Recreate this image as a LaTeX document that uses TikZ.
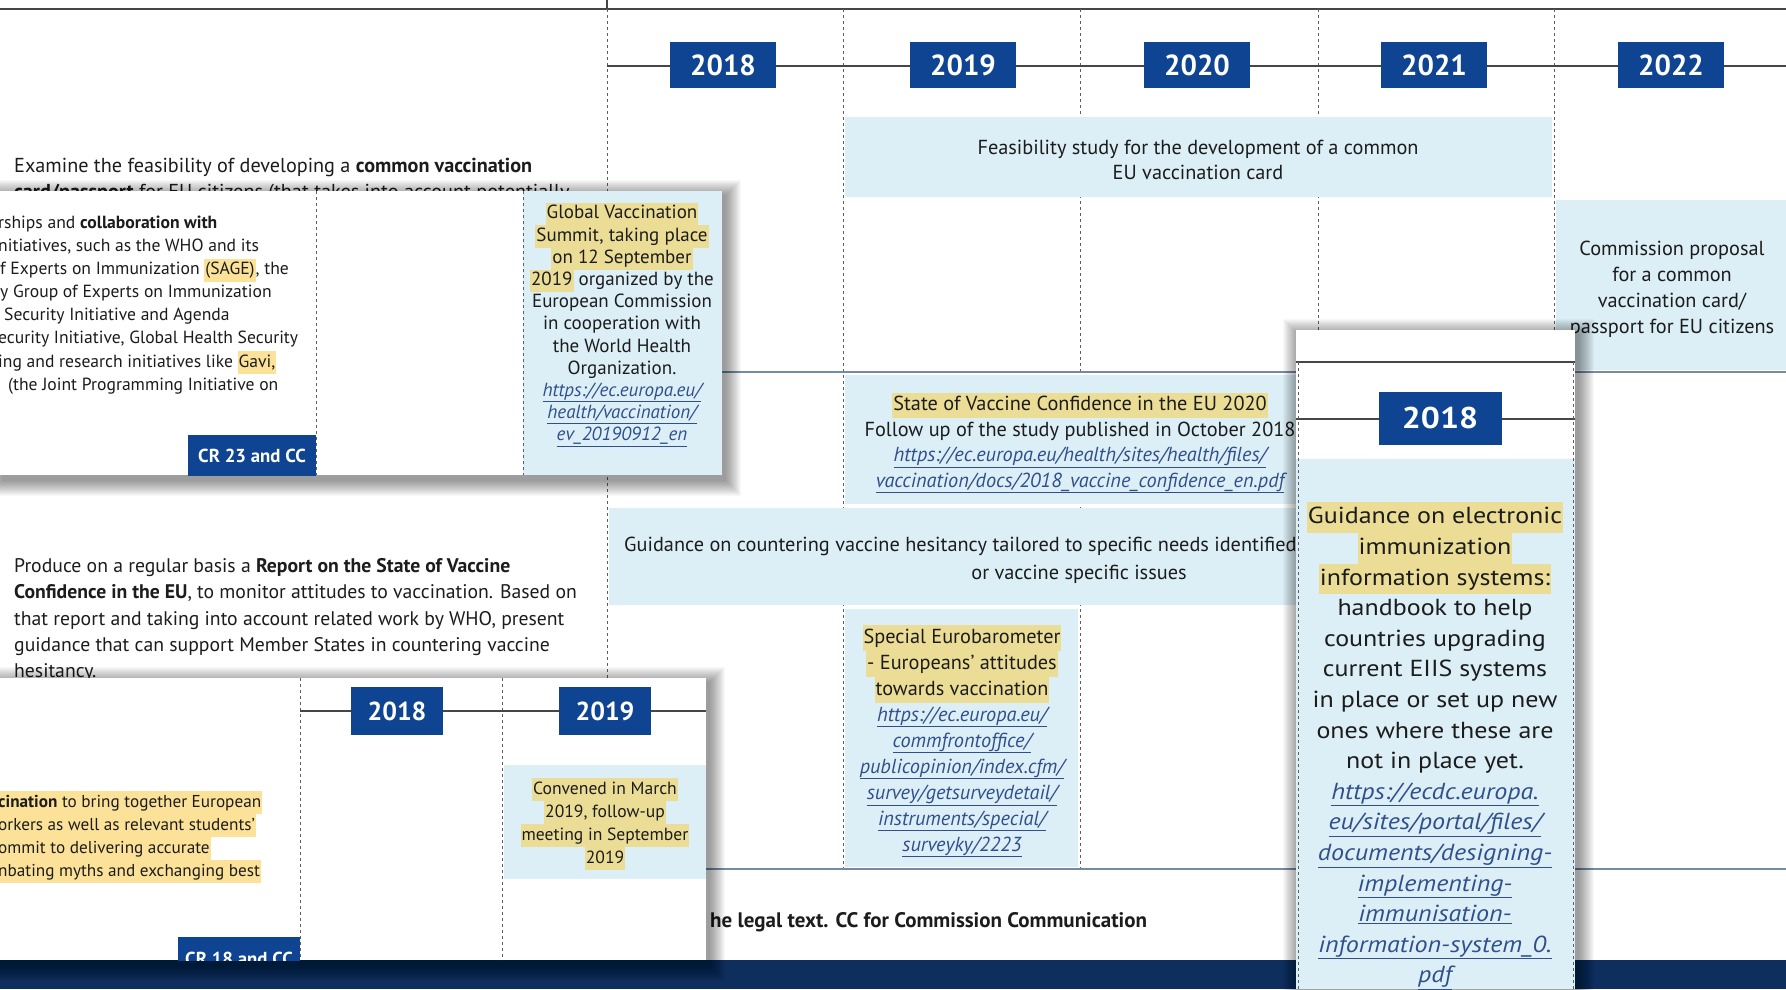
\documentclass[tikz,border=0pt]{standalone}
\usepackage{fontspec}
\setmainfont{PT Sans}
\newfontfamily\widefont{PT Sans}[FakeStretch=1.12]
\definecolor{ecblue}{RGB}{14,68,146}
\definecolor{lb}{RGB}{220,238,246}
\definecolor{hlb}{RGB}{236,221,150}
\definecolor{hlw}{RGB}{252,226,152}
\definecolor{linkc}{RGB}{48,80,140}
\definecolor{txt}{RGB}{28,28,28}
\definecolor{navy}{RGB}{14,46,94}
\definecolor{gridc}{RGB}{70,70,70}
\definecolor{divc}{RGB}{118,138,168}
\definecolor{dashc}{RGB}{95,95,95}
\newcommand{\hlB}[1]{{\setlength{\fboxsep}{0pt}\colorbox{hlb}{\strut\kern1pt#1\kern1pt}}}
\newcommand{\hlW}[1]{{\setlength{\fboxsep}{0pt}\colorbox{hlw}{\strut\kern1pt#1\kern1pt}}}
\newcommand{\lnk}[1]{{\color{linkc}\itshape\underline{#1}}}
\newcommand{\mkshadow}[4]{\foreach \k in {1,...,16}{\fill[black,opacity=0.028] ({#1-\k+3},{#2-\k+5}) rectangle ({#3+\k+3},{#4+\k+5});}}
\tikzset{
  gridline/.style={draw=gridc, line width=1.3pt},
  divline/.style={draw=divc, line width=1.3pt},
  dashline/.style={draw=dashc, line width=0.9pt, dash pattern=on 3pt off 3pt},
  yearbox/.style={fill=ecblue, text=white, font=\bfseries\fontsize{29}{29}\selectfont, minimum width=106pt, minimum height=46pt, inner sep=0pt},
  yearsmall/.style={fill=ecblue, text=white, font=\bfseries\fontsize{26}{26}\selectfont, minimum width=92pt, minimum height=48pt, inner sep=0pt},
  yearwide/.style={fill=ecblue, text=white, font=\widefont\bfseries\fontsize{30}{30}\selectfont, minimum width=123pt, minimum height=53pt, inner sep=0pt},
  body/.style={font=\fontsize{20.3}{26}\selectfont, text=txt, inner sep=0pt},
  boxtext/.style={font=\fontsize{20.3}{25.5}\selectfont, text=txt, inner sep=0pt, align=center},
  smalltext/.style={font=\fontsize{17.6}{23.1}\selectfont, text=txt, inner sep=0pt, align=left, anchor=west},
  cardtext/.style={font=\fontsize{19}{22.2}\selectfont, text=txt, inner sep=0pt, align=center},
  widetext/.style={font=\widefont\fontsize{23.2}{30.6}\selectfont, text=txt, inner sep=0pt, align=center},
  crtext/.style={font=\bfseries\fontsize{18.8}{20}\selectfont, text=white, inner sep=0pt}
}
\begin{document}
\begin{tikzpicture}[x=1pt,y=-1pt]
\useasboundingbox (0,0) rectangle (1786,989);
\fill[white] (0,0) rectangle (1786,989);

% ---------- main page ----------
\draw[gridline] (0,9) -- (1786,9);
\draw[gridline] (607,0) -- (607,9);
\foreach \xx in {607,843,1080,1318,1554} \draw[dashline] (\xx,9) -- (\xx,869);
\draw[gridline] (607,66) -- (1786,66);
\node[yearbox] (y18) at (723,65) {2018};
\node[yearbox] (y19) at (963,65) {2019};
\node[yearbox] (y20) at (1197,65) {2020};
\node[yearbox] (y21) at (1434,65) {2021};
\node[yearbox] (y22) at (1671,65) {2022};

\fill[lb] (845,117) rectangle (1552,197);
\fill[lb] (1556,200) rectangle (1786,370);
\fill[lb] (845,375) rectangle (1316,504);
\fill[lb] (609,508) rectangle (1552,605);
\fill[lb] (845,609) rectangle (1078,867);
\draw[divline] (607,372) -- (1786,372);
\draw[divline] (607,869) -- (1786,869);

\node[body, font=\fontsize{20.2}{26}\selectfont, anchor=west, align=left] (examine) at (14,181)
  {Examine the feasibility of developing a \textbf{common vaccination}\\
   \textbf{card/passport} for EU citizens (that takes into account potentially};
\node[body, font=\fontsize{19.7}{26.4}\selectfont, anchor=west, align=left] (produce) at (14,620)
  {Produce on a regular basis a \textbf{Report on the State of Vaccine}\\
   \textbf{Confidence in the EU}, to monitor attitudes to vaccination. Based on\\
   that report and taking into account related work by WHO, present\\
   guidance that can support Member States in countering vaccine\\
   hesitancy.};
\node[body, align=center, font=\fontsize{20.3}{25}\selectfont] (feas) at (1198,160)
  {Feasibility study for the development of a common\\EU vaccination card};
\node[body, align=center] (comm) at (1672,289)
  {Commission proposal\\for a common\\vaccination card/\\passport for EU citizens};
\node[boxtext] (state) at (1080,443)
  {\hlB{State of Vaccine Confidence in the EU 2020}\\
   Follow up of the study published in October 2018\\
   \lnk{https://ec.europa.eu/health/sites/health/files/}\\
   \lnk{vaccination/docs/2018\_vaccine\_confidence\_en.pdf}};
\node[boxtext, anchor=west] (guid1) at (624,546)
  {Guidance on countering vaccine hesitancy tailored to specific needs identified};
\node[boxtext] (guid2) at (1079,574) {or vaccine specific issues};
\node[body, align=center] (euro) at (962,741)
  {\hlB{Special Eurobarometer}\\
   \hlB{- Europeans’ attitudes}\\
   \hlB{towards vaccination}\\
   \lnk{https://ec.europa.eu/}\\
   \lnk{commfrontoffice/}\\
   \lnk{publicopinion/index.cfm/}\\
   \lnk{survey/getsurveydetail/}\\
   \lnk{instruments/special/}\\
   \lnk{surveyky/2223}};
\node[body, font=\bfseries\fontsize{21}{26}\selectfont, anchor=west] (legal) at (710,922)
  {he legal text. CC for Commission Communication};
\fill[navy] (0,960) rectangle (1786,989);

% ---------- card 1 ----------
\mkshadow{0}{191}{722}{475}
\begin{scope}
\clip (0,191) rectangle (722,475);
\fill[white] (0,191) rectangle (722,475);
\fill[lb] (523,191) rectangle (722,475);
\draw[dashline] (316,191) -- (316,475);
\draw[dashline] (523,191) -- (523,475);
\fill[ecblue] (188,435) rectangle (316,476);
\node[crtext] (cr23) at (252,456) {CR 23 and CC};
\node[smalltext] (c1txt) at (-2,305)
  {rships and \textbf{collaboration with}\\
   nitiatives, such as the WHO and its\\
   \hspace*{2pt}f Experts on Immunization \hlW{(SAGE)}, the\\
   \hspace*{2pt}y Group of Experts on Immunization\\
   \hspace*{6pt}Security Initiative and Agenda\\
   ecurity Initiative, Global Health Security\\
   ing and research initiatives like \hlW{Gavi,}\\
   \hspace*{10pt}(the Joint Programming Initiative on};
\node[cardtext] (gvs) at (622,325)
  {\hlB{Global Vaccination}\\
   \hlB{Summit, taking place}\\
   \hlB{on 12 September}\\
   \hlB{2019} organized by the\\
   European Commission\\
   in cooperation with\\
   the World Health\\
   Organization.\\
   \lnk{https://ec.europa.eu/}\\
   \lnk{health/vaccination/}\\
   \lnk{ev\_20190912\_en}};
\end{scope}

% ---------- card 2 ----------
\mkshadow{0}{678}{706}{960}
\begin{scope}
\clip (0,678) rectangle (706,960);
\fill[white] (0,678) rectangle (706,960);
\fill[lb] (504,765) rectangle (706,879);
\draw[dashline] (300,678) -- (300,960);
\draw[dashline] (502,678) -- (502,960);
\draw[gridline] (300,711) -- (706,711);
\node[yearsmall] (s18) at (397,711) {2018};
\node[yearsmall] (s19) at (605,711) {2019};
\fill[ecblue] (178,937) rectangle (300,990);
\node[crtext] (cr18) at (239,959) {CR 18 and CC};
\node[smalltext, font=\fontsize{17.2}{23}\selectfont] (c2txt) at (-3,837)
  {\hlW{\textbf{cination} to bring together European}\\
   \hlW{orkers as well as relevant students’}\\
   \hlW{ommit to delivering accurate}\\
   \hlW{nbating myths and exchanging best}};
\node[cardtext, font=\fontsize{17.6}{23}\selectfont] (conv) at (605,824)
  {\hlB{Convened in March}\\
   \hlB{2019, follow-up}\\
   \hlB{meeting in September}\\
   \hlB{2019}};
\end{scope}

% ---------- card 3 ----------
\mkshadow{1296}{330}{1575}{1010}
\begin{scope}
\clip (1296,330) rectangle (1575,989);
\fill[white] (1296,330) rectangle (1575,459);
\fill[lb] (1296,459) rectangle (1575,989);
\draw[gridline] (1296,362) -- (1575,362);
\draw[gridline] (1296,419) -- (1575,419);
\draw[dashline] (1298,362) -- (1298,989);
\draw[dashline] (1573,362) -- (1573,989);
\node[yearwide] (w18) at (1440,418) {2018};
\node[widetext] (eiis) at (1435,746)
  {\hlB{Guidance on electronic}\\
   \hlB{immunization}\\
   \hlB{information systems:}\\
   handbook to help\\
   countries upgrading\\
   current EIIS systems\\
   in place or set up new\\
   ones where these are\\
   not in place yet.\\
   \lnk{https://ecdc.europa.}\\
   \lnk{eu/sites/portal/files/}\\
   \lnk{documents/designing-}\\
   \lnk{implementing-}\\
   \lnk{immunisation-}\\
   \lnk{information-system\_0.}\\
   \lnk{pdf}};
\end{scope}
\end{tikzpicture}
\end{document}
